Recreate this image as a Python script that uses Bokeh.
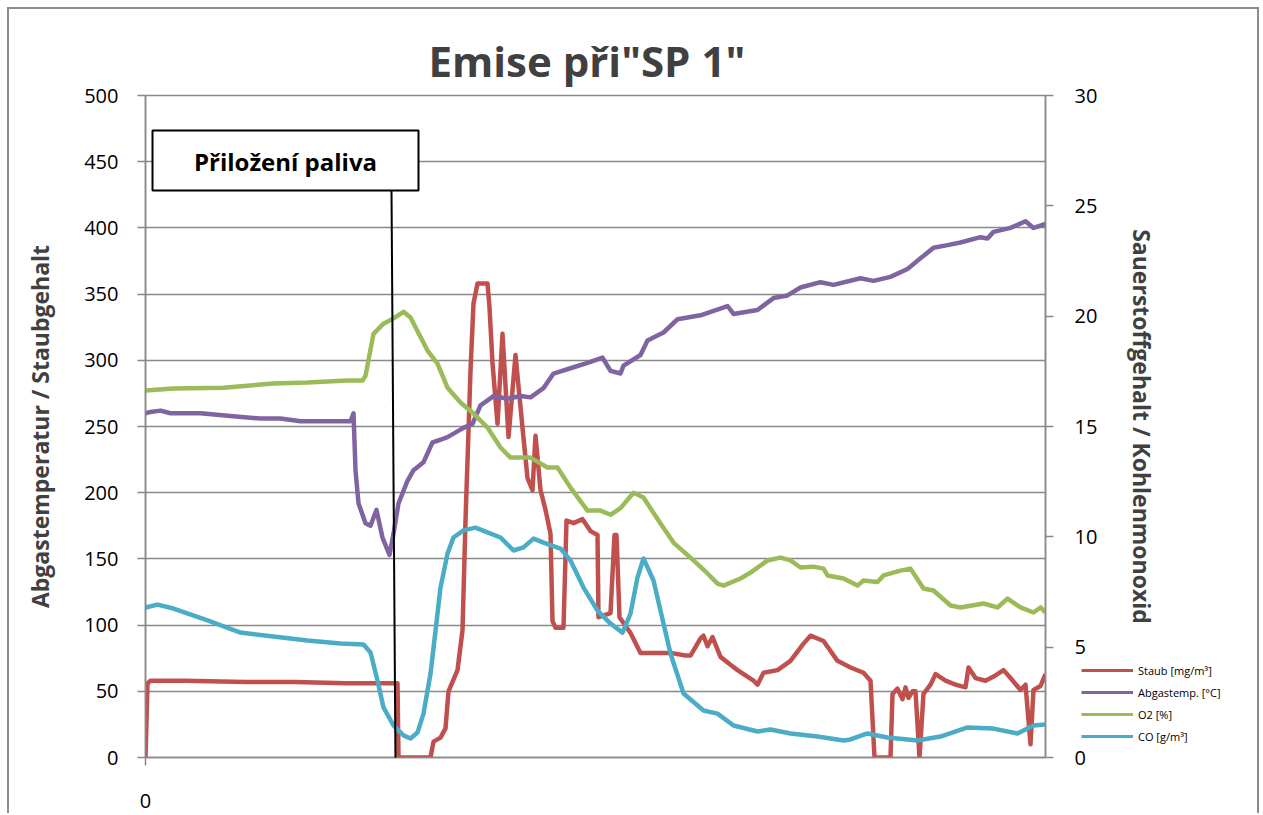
from bokeh.plotting import figure
from bokeh.models import (Range1d, LinearAxis, FixedTicker, BoxAnnotation, Label,
                          Arrow, Legend, LegendItem)
from bokeh.layouts import column
from bokeh.embed import file_html
from bokeh.resources import INLINE

# ---------------- data (sample index, value) ----------------
staub_t = [0, 2, 5, 40, 100, 150, 200, 252, 253, 285, 288, 295, 300, 303, 312, 317, 320,
           325, 328, 332, 342, 344, 347, 352, 357, 363, 370, 377, 382, 387, 390, 395, 400,
           405, 407, 410, 418, 421, 428, 437, 445, 452, 453, 465, 469, 471, 474, 485, 495,
           508, 525, 540, 545, 555, 558, 562, 567, 575, 585, 592, 600, 608, 612, 618, 632,
           645, 658, 665, 678, 692, 705, 718, 725, 729, 745, 747, 752, 757, 760, 763, 767,
           770, 774, 778, 785, 790, 800, 810, 820, 823, 830, 840, 850, 858, 865, 875, 880,
           885, 888, 895, 900]
staub_v = [0, 56, 58, 58, 57, 57, 56, 56, 0, 0, 12, 15, 22, 50, 66, 96, 179,
           292, 343, 358, 358, 340, 298, 252, 320, 242, 304, 249, 211, 202, 243, 202, 187,
           169, 103, 98, 98, 179, 177, 180, 171, 168, 106, 109, 168, 168, 106, 94, 79,
           79, 79, 77, 77, 90, 92, 84, 91, 76, 70, 66, 62, 58, 55, 64, 66,
           73, 86, 92, 88, 73, 68, 64, 58, 0, 0, 48, 52, 44, 53, 45, 50,
           50, 0, 48, 55, 63, 58, 55, 53, 68, 60, 58, 62, 66, 60, 51, 55,
           10, 51, 54, 63]

temp_t = [0, 5, 15, 25, 55, 85, 115, 135, 155, 185, 205, 208, 210, 213, 220, 225, 231,
          237, 244, 248, 253, 262, 268, 278, 287, 295, 302, 318, 327, 335, 348, 362, 375,
          385, 398, 408, 425, 442, 457, 465, 475, 478, 495, 502, 518, 532, 555, 582, 588,
          612, 628, 642, 655, 675, 688, 715, 728, 745, 762, 775, 788, 802, 815, 835, 842,
          848, 865, 880, 888, 900]
temp_v = [260, 261, 262, 260, 260, 258, 256, 256, 254, 254, 254, 260, 217, 192, 177, 175, 187,
          166, 153, 169, 192, 209, 217, 223, 238, 240, 242, 249, 252, 266, 273, 271, 273,
          272, 279, 290, 294, 298, 302, 292, 290, 296, 304, 315, 321, 331, 334, 341, 335,
          338, 347, 349, 355, 359, 357, 362, 360, 363, 369, 377, 385, 387, 389, 393, 392,
          397, 400, 405, 400, 403]

o2_t = [0, 28, 78, 128, 162, 202, 217, 220, 228, 238, 248, 258, 265, 282, 292, 302, 315,
        328, 342, 355, 365, 375, 385, 402, 412, 425, 442, 455, 465, 475, 488, 498, 515,
        528, 548, 562, 572, 578, 595, 605, 622, 635, 645, 655, 668, 678, 682, 698, 712,
        718, 732, 738, 755, 765, 778, 788, 805, 815, 838, 852, 862, 875, 888, 895, 900]
o2_v = [16.63, 16.72, 16.76, 16.95, 16.99, 17.08, 17.08, 17.3, 19.2, 19.66, 19.9, 20.2, 19.94,
        18.44, 17.85, 16.76, 16.09, 15.59, 14.95, 14.05, 13.59, 13.6, 13.59, 13.14, 13.14,
        12.23, 11.19, 11.19, 11.0, 11.3, 12.0, 11.78, 10.6, 9.74, 8.93, 8.34, 7.88, 7.79,
        8.11, 8.38, 8.93, 9.06, 8.93, 8.61, 8.65, 8.56, 8.25, 8.11, 7.79, 8.02, 7.95, 8.25,
        8.47, 8.56, 7.66, 7.57, 6.89, 6.8, 6.98, 6.8, 7.2, 6.8, 6.57, 6.8, 6.57]

co_t = [0, 12, 28, 62, 95, 128, 162, 195, 218, 225, 232, 238, 248, 258, 265, 272, 278, 285,
        292, 295, 302, 308, 318, 330, 342, 355, 368, 378, 388, 398, 415, 425, 438, 452, 465,
        477, 485, 492, 498, 508, 518, 525, 538, 558, 572, 588, 612, 625, 645, 672, 698, 705,
        722, 742, 772, 795, 822, 848, 872, 888, 900]
co_v = [6.8, 6.93, 6.75, 6.21, 5.66, 5.48, 5.3, 5.17, 5.12, 4.76, 3.49, 2.27, 1.45, 1.0, 0.86,
        1.13, 1.99, 3.8, 6.52, 7.7, 9.24, 9.97, 10.29, 10.42, 10.2, 9.97, 9.38, 9.52, 9.92,
        9.74, 9.47, 8.93, 7.7, 6.66, 6.07, 5.66, 6.52, 8.16, 9.02, 8.02, 6.07, 4.71, 2.9,
        2.13, 1.99, 1.45, 1.18, 1.27, 1.09, 0.95, 0.77, 0.82, 1.09, 0.91, 0.77, 0.95, 1.36,
        1.31, 1.09, 1.45, 1.5]

left_ticks = [0, 50, 100, 150, 200, 250, 300, 350, 400, 450, 500]
right_ticks = [0, 5, 10, 15, 20, 25, 30]
x_ticks = [0]

series_names = ["Staub [mg/m³]", "Abgastemp. [°C]", "O2 [%]", "CO [g/m³]"]
series_colors = ["#C0504D", "#8064A2", "#9BBB59", "#4BACC6"]

FONT = "Open Sans"
GRID = "#898989"
LW = 4.5

p = figure(width=1252, height=806, output_backend="svg", toolbar_location=None,
           x_range=Range1d(0, 900), y_range=Range1d(0, 500),
           min_border_left=136, min_border_right=216, min_border_top=86,
           min_border_bottom=58)
p.styles = {"border-top": "2px solid #8c8c8c", "border-left": "2px solid #8c8c8c",
            "border-right": "2px solid #8c8c8c", "margin-left": "7px", "margin-top": "7px"}
p.background_fill_color = "white"
p.border_fill_color = "white"
p.outline_line_color = GRID
p.outline_line_width = 1.5

p.title.text = 'Emise při"SP 1"'
p.title.align = "left"
p.title.offset = 283
p.title.text_font = FONT
p.title.text_font_size = "42px"
p.title.text_font_style = "bold"
p.title.text_color = "#404040"
p.title.standoff = 14

p.extra_y_ranges = {"r": Range1d(0, 30)}

xa = p.xaxis[0]
xa.ticker = FixedTicker(ticks=x_ticks)
ya = p.yaxis[0]
ya.ticker = FixedTicker(ticks=left_ticks)
ya.axis_label = "Abgastemperatur / Staubgehalt"
ra = LinearAxis(y_range_name="r", ticker=FixedTicker(ticks=right_ticks),
                axis_label="Sauerstoffgehalt / Kohlenmonoxid")
p.add_layout(ra, "right")

for ax in (xa, ya, ra):
    ax.axis_line_color = GRID
    ax.axis_line_width = 1.5
    ax.major_tick_line_color = GRID
    ax.major_tick_line_width = 1.5
    ax.major_tick_out = 8
    ax.major_tick_in = 0
    ax.minor_tick_line_color = None
    ax.major_label_text_font = FONT
    ax.major_label_text_font_size = "20px"
    ax.major_label_text_color = "#000000"
    ax.axis_label_text_font = FONT
    ax.axis_label_text_font_size = "23px"
    ax.axis_label_text_font_style = "bold"
    ax.axis_label_text_color = "#404040"
ya.major_label_standoff = 19
ra.major_label_standoff = 21
xa.major_label_standoff = 28
ya.axis_label_standoff = 25
ra.axis_label_standoff = 26

p.xgrid.visible = False
p.ygrid.ticker = FixedTicker(ticks=left_ticks)
p.ygrid.grid_line_color = GRID
p.ygrid.grid_line_width = 1.5

r1 = p.line(staub_t, staub_v, line_color=series_colors[0], line_width=LW, line_join="round")
r2 = p.line(temp_t, temp_v, line_color=series_colors[1], line_width=LW, line_join="round")
r3 = p.line(o2_t, o2_v, line_color=series_colors[2], line_width=LW, line_join="round",
            y_range_name="r")
r4 = p.line(co_t, co_v, line_color=series_colors[3], line_width=LW, line_join="round",
            y_range_name="r")

p.add_layout(Arrow(end=None, x_start=246, y_start=428.2, x_end=250, y_end=-3.8,
                   line_color="black", line_width=2))
p.add_layout(BoxAnnotation(left=7, right=273, bottom=428.2, top=473.6,
                           fill_color="white", fill_alpha=1.0,
                           line_color="black", line_alpha=1.0, line_width=2))
p.add_layout(Label(x=140, y=450, text="Přiložení paliva", text_align="center",
                   text_baseline="middle", text_font=FONT, text_font_size="24px",
                   text_font_style="bold", text_color="black"))

# legend in a small overlay figure (outside the main plot frame); its key lines
# carry the series' first two points placed outside its (0..1) ranges, so only the
# legend keys are visible there
lf = figure(width=160, height=92, output_backend="svg", toolbar_location=None,
            x_range=Range1d(0, 1), y_range=Range1d(0, 1),
            x_axis_location=None, y_axis_location=None, min_border=0)
lf.grid.visible = False
lf.outline_line_color = None
lf.background_fill_alpha = 0
lf.border_fill_alpha = 0
lrs = [lf.line([-3, -2], [-3, -2], line_color=c, line_width=3) for c in series_colors]
legend = Legend(items=[LegendItem(label=n, renderers=[r]) for n, r in zip(series_names, lrs)],
                location="top_left", orientation="vertical")
legend.label_text_font = FONT
legend.label_text_font_size = "11px"
legend.label_text_color = "#000000"
legend.glyph_width = 52
legend.glyph_height = 16
legend.label_height = 16
legend.label_standoff = 5
legend.spacing = 6
legend.padding = 0
legend.margin = 0
legend.border_line_color = None
legend.background_fill_alpha = 0
lf.add_layout(legend)
lf.styles = {"position": "absolute", "left": "1081px", "top": "662px", "z-index": "5"}

layout = column(p, lf)
open("out.html", "w").write(file_html(layout, INLINE))
